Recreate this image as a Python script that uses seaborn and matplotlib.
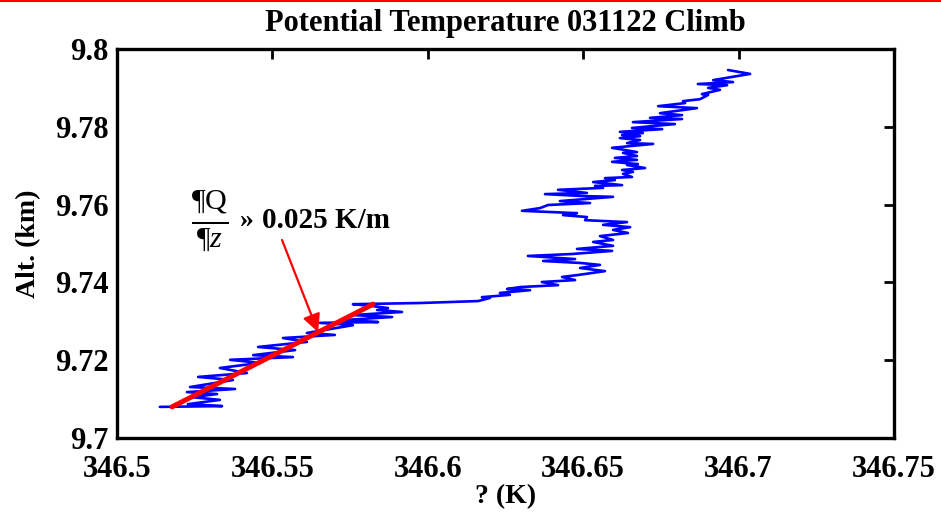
import numpy as np
import pandas as pd
import matplotlib
matplotlib.use("Agg")
import matplotlib.pyplot as plt
import seaborn as sns
from matplotlib.lines import Line2D
from matplotlib.ticker import FuncFormatter

# ---- data ----
theta = [346.5138, 346.5338, 346.5228, 346.5331, 346.5241, 346.5322, 346.5225, 346.5380,
         346.5235, 346.5373, 346.5261, 346.5418, 346.5331, 346.5460, 346.5364, 346.5566,
         346.5438, 346.5573, 346.5454, 346.5611, 346.5534, 346.5701, 346.5611, 346.5759,
         346.5653, 346.5840, 346.5727, 346.5885, 346.5759, 346.5917, 346.5837, 346.5872,
         346.5824, 346.5759, 346.5975, 346.6162, 346.6200, 346.6174, 346.6264, 346.6232,
         346.6329, 346.6255, 346.6297, 346.6419, 346.6367, 346.6474, 346.6432, 346.6483,
         346.6570, 346.6490, 346.6554, 346.6490, 346.6371, 346.6474, 346.6322, 346.6464,
         346.6593, 346.6480, 346.6596, 346.6532, 346.6596, 346.6554, 346.6644, 346.6596,
         346.6651, 346.6564, 346.6641, 346.6506, 346.6512, 346.6435, 346.6480, 346.6303,
         346.6361, 346.6387, 346.6522, 346.6425, 346.6596, 346.6496, 346.6377, 346.6512,
         346.6419, 346.6564, 346.6538, 346.6625, 346.6532, 346.6602, 346.6570, 346.6657,
         346.6628, 346.6660, 346.6625, 346.6699, 346.6641, 346.6676, 346.6593, 346.6673,
         346.6602, 346.6673, 346.6628, 346.6673, 346.6593, 346.6725, 346.6641, 346.6683,
         346.6618, 346.6683, 346.6625, 346.6692, 346.6618, 346.6754, 346.6657, 346.6795,
         346.6660, 346.6818, 346.6715, 346.6818, 346.6747, 346.6866, 346.6741, 346.6828,
         346.6821, 346.6876, 346.6902, 346.6882, 346.6940, 346.6902, 346.6963, 346.6869,
         346.6982, 346.6918, 346.7037, 346.6988, 346.6966]
alt_km = [9.7080, 9.7082, 9.7087, 9.7098, 9.7105, 9.7113, 9.7118, 9.7126,
          9.7131, 9.7149, 9.7157, 9.7167, 9.7180, 9.7193, 9.7201, 9.7208,
          9.7213, 9.7226, 9.7234, 9.7247, 9.7257, 9.7265, 9.7270, 9.7290,
          9.7296, 9.7298, 9.7303, 9.7311, 9.7316, 9.7324, 9.7329, 9.7334,
          9.7339, 9.7344, 9.7347, 9.7352, 9.7360, 9.7362, 9.7368, 9.7373,
          9.7380, 9.7383, 9.7388, 9.7393, 9.7401, 9.7406, 9.7414, 9.7419,
          9.7429, 9.7437, 9.7445, 9.7450, 9.7455, 9.7460, 9.7468, 9.7473,
          9.7481, 9.7486, 9.7494, 9.7504, 9.7509, 9.7519, 9.7527, 9.7535,
          9.7542, 9.7548, 9.7555, 9.7560, 9.7568, 9.7573, 9.7578, 9.7584,
          9.7591, 9.7599, 9.7604, 9.7609, 9.7620, 9.7622, 9.7627, 9.7630,
          9.7638, 9.7643, 9.7648, 9.7650, 9.7658, 9.7663, 9.7668, 9.7671,
          9.7679, 9.7684, 9.7689, 9.7694, 9.7702, 9.7704, 9.7710, 9.7715,
          9.7720, 9.7725, 9.7733, 9.7735, 9.7746, 9.7756, 9.7758, 9.7766,
          9.7771, 9.7776, 9.7779, 9.7784, 9.7787, 9.7794, 9.7797, 9.7807,
          9.7812, 9.7820, 9.7823, 9.7830, 9.7835, 9.7848, 9.7853, 9.7861,
          9.7866, 9.7871, 9.7882, 9.7884, 9.7895, 9.7900, 9.7907, 9.7910,
          9.7915, 9.7920, 9.7936, 9.7943, 9.7946]

fit_theta = [346.5177, 346.5824]
fit_alt = [9.7080, 9.7344]

x_ticks = [346.5, 346.55, 346.6, 346.65, 346.7, 346.75]
y_ticks = [9.7, 9.72, 9.74, 9.76, 9.78, 9.8]

title_text = "Potential Temperature 031122 Climb"
x_label = "? (K)"
y_label = "Alt. (km)"
slope_text = "0.025 K/m"

# ---- styling ----
sns.set_theme(style="white")
plt.rcParams['font.family'] = ['Liberation Serif', 'DejaVu Serif']
plt.rcParams['mathtext.fontset'] = 'custom'
plt.rcParams['mathtext.rm'] = 'Liberation Serif'
plt.rcParams['mathtext.it'] = 'Liberation Serif:italic'
plt.rcParams['mathtext.bf'] = 'Liberation Serif:bold'
for key in ['text.color', 'axes.labelcolor', 'xtick.color', 'ytick.color']:
    plt.rcParams[key] = 'black'

fig = plt.figure(figsize=(9.41, 5.15), dpi=100)
fig.patch.set_facecolor('white')
ax = fig.add_axes([117/941, 1-438/515, (894-117)/941, (438-49)/515])

df = pd.DataFrame({"theta": theta, "alt": alt_km})
sns.lineplot(data=df, x="theta", y="alt", sort=False, estimator=None,
             color="#0000ff", linewidth=1.9, ax=ax)
fit = pd.DataFrame({"theta": fit_theta, "alt": fit_alt})
sns.lineplot(data=fit, x="theta", y="alt", sort=False, estimator=None,
             color="#ff0000", linewidth=3.6, ax=ax)

ax.set_xlim(x_ticks[0], x_ticks[-1])
ax.set_ylim(y_ticks[0], y_ticks[-1])
ax.set_xticks(x_ticks)
ax.set_yticks(y_ticks)
fmt = FuncFormatter(lambda v, p: f"{v:g}")
ax.xaxis.set_major_formatter(fmt)
ax.yaxis.set_major_formatter(fmt)
ax.tick_params(direction='in', length=7, width=2, top=True, right=True,
               labelsize=22, colors='black')
ax.tick_params(axis='x', pad=12)
ax.tick_params(axis='y', pad=6)
for lab in ax.get_xticklabels() + ax.get_yticklabels():
    lab.set_fontweight('bold')
for sp in ax.spines.values():
    sp.set_linewidth(2.4)
    sp.set_color('black')

ax.set_title(title_text, fontsize=22, fontweight='bold', pad=13, color='black')
ax.set_xlabel(x_label, fontsize=20, fontweight='bold', labelpad=0)
ax.set_ylabel(y_label, fontsize=20, fontweight='bold', labelpad=10)

# annotation
ax.annotate("", xy=(346.5647, 9.7272), xytext=(346.5531, 9.7509),
            arrowprops=dict(arrowstyle="-|>,head_length=0.9,head_width=0.45",
                            color="#ff0000", lw=1.6, shrinkA=0, shrinkB=0))
ax.text(346.5299, 9.7557, r"$\frac{\mathrm{¶Q}}{\mathrm{¶}z}$", fontsize=31,
        ha='center', va='center', color='black')
ax.text(346.5418, 9.7558, "»", fontsize=20, fontweight='bold', ha='center',
        va='center', color='black')
ax.text(346.5467, 9.7560, slope_text, fontsize=21, fontweight='bold',
        ha='left', va='center', color='black')

fig.add_artist(Line2D([0, 1], [0.999, 0.999], transform=fig.transFigure,
                      color='#ff0000', lw=1.5))

fig.savefig("out.png", dpi=100, facecolor='white')
